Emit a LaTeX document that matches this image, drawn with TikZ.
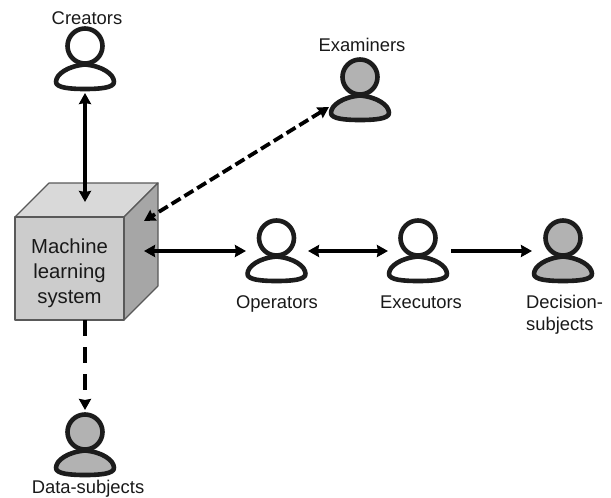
\documentclass[tikz,border=0pt]{standalone}
\usepackage{fontspec}
\setmainfont{Liberation Sans}
\usetikzlibrary{arrows.meta}
\definecolor{inkc}{gray}{0.11}
\definecolor{usergray}{gray}{0.70}
\definecolor{cubefront}{gray}{0.80}
\definecolor{cubetop}{gray}{0.85}
\definecolor{cubeside}{gray}{0.65}
\definecolor{cubeedge}{gray}{0.35}
\tikzset{
  x=1pt,y=-1pt,
  personmark/.style={inner sep=0,minimum width=66pt,minimum height=66pt,text height=0pt},
  lab/.style={font=\fontsize{18.4}{22}\selectfont,inner sep=0,text=black!90,anchor=base},
  cubeface/.style={draw=cubeedge,line width=1.2pt,line join=round},
  link/.style={line width=3.8pt,draw=black,{Stealth[length=11pt,width=12pt,inset=1pt]}-{Stealth[length=11pt,width=12pt,inset=1pt]}},
  oneway/.style={line width=3.8pt,draw=black,-{Stealth[length=11pt,width=12pt,inset=1pt]}},
  dashlink/.style={dash pattern=on 10.5pt off 4.5pt},
  longdash/.style={dash pattern=on 16pt off 11pt},
  pics/person/.style={code={
    \path[draw=inkc,fill=#1,line width=4.6pt,line join=round]
      (0,18.5) .. controls (-17,20) and (-29,28) .. (-29,36)
      .. controls (-29,42) and (-14,43) .. (0,43)
      .. controls (14,43) and (29,42) .. (29,36)
      .. controls (29,28) and (17,20) .. (0,18.5) -- cycle;
    \path[draw=inkc,fill=#1,line width=4.6pt] (0,0) circle[radius=17.5];
  }}
}
\begin{document}
\begin{tikzpicture}
\useasboundingbox (0,0) rectangle (611,498);
% cube
\path[cubeface,fill=cubetop] (15,217) -- (49,183) -- (158,183) -- (124,217) -- cycle;
\path[cubeface,fill=cubeside] (124,217) -- (158,183) -- (158,286) -- (124,320) -- cycle;
\node[cubeface,fill=cubefront,minimum width=109pt,minimum height=103pt,inner sep=0] (cube) at (69.5,268.5) {};
\node[inner sep=0,font=\fontsize{20.3}{25}\selectfont,align=center,text=black!90] (cubelabel) at (69.5,273) {Machine\\learning\\system};
% people
\pic at (85,46) {person=white};
\pic at (360,77) {person=usergray};
\pic at (276.5,238) {person=white};
\pic at (418,238) {person=white};
\pic at (563,238) {person=usergray};
\pic at (85,432) {person=usergray};
\node[personmark] (creators) at (85,60) {};
\node[personmark] (examiners) at (360,91) {};
\node[personmark] (operators) at (276.5,252) {};
\node[personmark] (executors) at (418,252) {};
\node[personmark] (decision) at (563,252) {};
\node[personmark] (datasub) at (85,446) {};
% labels
\node[lab] (lc) at (87,24) {Creators};
\node[lab] (le) at (362,51.7) {Examiners};
\node[lab] (lo) at (277,308) {Operators};
\node[lab] (lx) at (421,308) {Executors};
\node[lab,anchor=base west] (ld1) at (526,308) {Decision-};
\node[lab,anchor=base west] (ld2) at (526,330) {subjects};
\node[lab] (ls) at (88,493.3) {Data-subjects};
% connector ends
\coordinate (cubetopin) at (85,202);
\coordinate (cubesideup) at (144,221);
\coordinate (cubesidemid) at (144,251);
\coordinate (cubebottom) at (85,320);
\coordinate (examfoot) at (329,107);
\coordinate (creatorfoot) at (85,93);
\coordinate (opin) at (246,251);
\coordinate (opout) at (308,251);
\coordinate (exin) at (388,251);
\coordinate (exout) at (451,251);
\coordinate (dein) at (532,251);
\coordinate (datatop) at (85,410);
% connectors
\draw[link] (creatorfoot) -- (cubetopin);
\draw[link,dashlink] (examfoot) -- (cubesideup);
\draw[link] (cubesidemid) -- (opin);
\draw[link] (opout) -- (exin);
\draw[oneway] (exout) -- (dein);
\draw[oneway,longdash] (cubebottom) -- (datatop);
\end{tikzpicture}
\end{document}
